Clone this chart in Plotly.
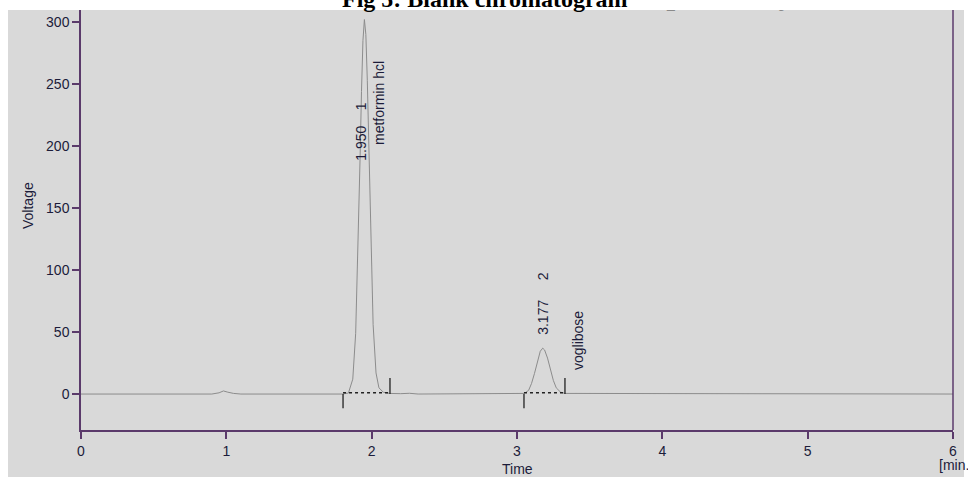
import plotly.graph_objects as go

# ---------------- data ----------------
time_min = [0, 0.90, 0.95, 0.98, 1.01, 1.05, 1.10, 1.80, 1.84, 1.87, 1.89, 1.91, 1.92, 1.93,
            1.94, 1.95, 1.96, 1.97, 1.98, 1.99, 2.00, 2.01, 2.03, 2.05, 2.08, 2.12, 2.20,
            2.26, 2.32, 3.00, 3.05, 3.08, 3.10, 3.12, 3.14, 3.16, 3.177, 3.19, 3.21, 3.23,
            3.25, 3.27, 3.30, 3.33, 6.0]
voltage = [0, 0, 1.0, 2.5, 1.5, 0.5, 0, 0, 0.8, 12, 49, 133, 189, 244,
           285, 302, 290, 253, 200, 144, 94, 56, 17, 5, 1.5, 0.5, 0.3,
           0.6, 0, 0, 0.5, 3, 8.5, 16.5, 26.5, 34.5, 37, 35.5, 29, 19.5,
           11, 5, 1.5, 0.5, 0]

peak_numbers = [1, 2]
peak_rt = [1.950, 3.177]
peak_names = ["metformin hcl", "voglibose"]
peak_start = [1.803, 3.048]
peak_end = [2.126, 3.330]

x_ticks = [0, 1, 2, 3, 4, 5, 6]
y_ticks = [0, 50, 100, 150, 200, 250, 300]

title_text = "Fig 5: Blank chromatogram"
header_text = "Blank_metformin hcl voglibose"

# ---------------- styles ----------------
AX = "#5b3a6b"
TXT = "#1c1c3a"
BG = "#d9d9d9"
SANS = "Liberation Sans, Arial, sans-serif"

fig = go.Figure()

# chromatogram signal
fig.add_trace(go.Scatter(x=time_min, y=voltage, mode="lines",
                         line=dict(color="#8c8c8c", width=1), hoverinfo="skip"))

# integration baselines (dotted) and start/end markers
for s, e in zip(peak_start, peak_end):
    fig.add_trace(go.Scatter(x=[s, e], y=[1, 1], mode="lines",
                             line=dict(color="#222222", width=1.5, dash="dot"),
                             hoverinfo="skip"))
    fig.add_trace(go.Scatter(x=[s, s, None, e, e], y=[0, -11.5, None, 0, 13],
                             mode="lines", line=dict(color="#222222", width=1.3),
                             hoverinfo="skip"))

# faint header text, clipped by the plot area
fig.add_trace(go.Scatter(x=[4.445], y=[314.5], mode="text", text=[header_text],
                         textfont=dict(family=SANS, size=14, color="#8a8a8a"),
                         cliponaxis=True, hoverinfo="skip"))

# peak labels
lbl_font = dict(family=SANS, size=14, color=TXT)
label_offsets = [  # (dx for rt label, y for rt label, dx for name, y for name)
    (-0.019, 212, 0.096, 235),
    (-0.003, 73, 0.238, 43),
]
nb = "\u00a0"
for rt, num, name, (dx1, y1, dx2, y2) in zip(peak_rt, peak_numbers, peak_names, label_offsets):
    gap = nb * (4 if num == 1 else 5)
    fig.add_annotation(x=rt + dx1, y=y1, text=f"{rt:.3f}{gap}{num}", textangle=-90,
                       showarrow=False, font=lbl_font, xanchor="center", yanchor="middle")
    fig.add_annotation(x=rt + dx2, y=y2, text=name, textangle=-90,
                       showarrow=False, font=lbl_font, xanchor="center", yanchor="middle")

# grey panel behind everything
fig.add_shape(type="rect", xref="paper", yref="paper",
              x0=(8 - 81) / 872, x1=(964 - 81) / 872, y0=(430 - 477) / 420, y1=1,
              fillcolor=BG, line=dict(width=0), layer="below")
# right border line
fig.add_shape(type="line", xref="paper", yref="paper", x0=1, x1=1, y0=0, y1=1,
              line=dict(color=AX, width=1.5))

# title (cut off at the top)
fig.add_annotation(xref="paper", yref="paper", x=(485 - 81) / 872, y=1 + (11 - 0) / 420,
                   text=f"<b>{title_text}</b>", showarrow=False,
                   font=dict(family="Liberation Serif, Times New Roman, serif", size=24, color="#000000"),
                   xanchor="center", yanchor="middle")

# axis titles
fig.add_annotation(xref="paper", yref="paper", x=(28 - 81) / 872, y=(430 - 206) / 420,
                   text="Voltage", textangle=-90, showarrow=False,
                   font=dict(family=SANS, size=14, color=TXT), xanchor="center", yanchor="middle")
fig.add_annotation(xref="paper", yref="paper", x=0.5, y=(430 - 469) / 420,
                   text="Time", showarrow=False,
                   font=dict(family=SANS, size=14, color=TXT), xanchor="center", yanchor="middle")
fig.add_annotation(xref="paper", yref="paper", x=(937 - 81) / 872, y=(430 - 465) / 420,
                   text="[min.]", showarrow=False,
                   font=dict(family=SANS, size=14, color=TXT), xanchor="left", yanchor="middle")

fig.update_layout(
    width=968, height=477,
    margin=dict(l=81, r=15, t=10, b=47),
    paper_bgcolor="white", plot_bgcolor=BG,
    showlegend=False,
    font=dict(family=SANS, size=13, color=TXT),
)
fig.update_xaxes(range=[0, 6], tickvals=x_ticks, ticktext=[str(v) for v in x_ticks],
                 showgrid=False, zeroline=False, showline=True, linecolor=AX, linewidth=1.5,
                 ticks="outside", ticklen=7, tickcolor=AX, tickwidth=1.5,
                 tickfont=dict(family=SANS, size=14, color=TXT))
fig.update_yaxes(range=[-29, 309.7], tickvals=y_ticks, ticktext=[str(v) for v in y_ticks],
                 showgrid=False, zeroline=False, showline=True, linecolor=AX, linewidth=1.5,
                 ticks="outside", ticklen=7, tickcolor=AX, tickwidth=1.5,
                 tickfont=dict(family=SANS, size=14, color=TXT))

fig.write_html("out.html", config={"displayModeBar": False},
               post_script="document.body.style.margin='0';document.body.style.overflow='hidden';")
